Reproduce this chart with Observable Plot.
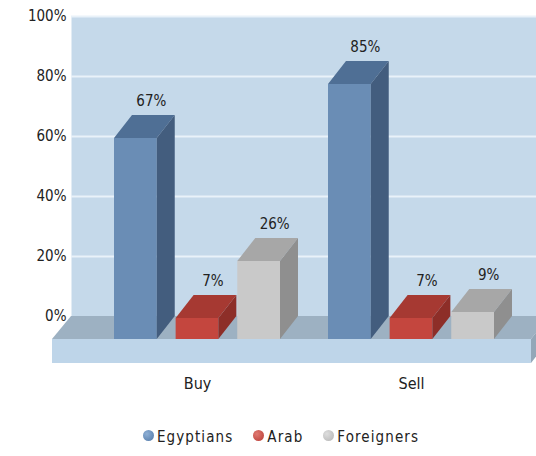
<!DOCTYPE html>
<html><head><meta charset="utf-8">
<script src="https://cdn.jsdelivr.net/npm/d3@7"></script>
<script src="https://cdn.jsdelivr.net/npm/@observablehq/plot@0.6"></script>
<style>
body{margin:0;background:#fff;width:536px;height:456px;overflow:hidden;font-family:"DejaVu Sans Condensed","DejaVu Sans",sans-serif}
#legend{display:flex;justify-content:center;align-items:center;height:20px;margin-top:27px;padding-left:26px;font-size:15px;color:#222;letter-spacing:1.1px}
.item{display:flex;align-items:center;margin:0 10px}
.dot{width:11px;height:11px;border-radius:50%;margin-right:3px;margin-top:-3px}
</style></head><body><div id="chart"></div><div id="legend"></div>
<script>
const groups = ["Buy", "Sell"];
const series = ["Egyptians", "Arab", "Foreigners"];
const buyValues = [67, 7, 26];
const sellValues = [85, 7, 9];
const yTicks = [0, 20, 40, 60, 80, 100];

const data = [];
groups.forEach((g, gi) => series.forEach((s, si) =>
  data.push({group: g, series: s, value: (gi ? sellValues : buyValues)[si]})));

const style = {
  front: ["#6a8db5", "#c4463e", "#c9c9c9"],
  top:   ["#4f6f95", "#a63932", "#a7a7a7"],
  side:  ["#435d7e", "#8d2e28", "#8f8f8f"],
  wall: "#c5d9ea", grid: "#e9f2f9", floor: "#9db1c2", slab: "#bed5e9", slabSide: "#93a7b8"
};
const DX = 18, DY = 23;
const ns = "http://www.w3.org/2000/svg";
function poly(g, pts, fill) {
  const p = document.createElementNS(ns, "polygon");
  p.setAttribute("points", pts.map(q => q.join(",")).join(" "));
  p.setAttribute("fill", fill);
  g.appendChild(p);
}

function floorRender(index, scales, values, dims) {
  const g = document.createElementNS(ns, "g");
  const y0 = values.y[0];
  const L = dims.marginLeft, R = dims.width;
  poly(g, [[L, y0], [R + 13, y0], [R - 5, y0 + DY], [L - 19, y0 + DY]], style.floor);
  poly(g, [[L - 19, y0 + DY], [R - 5, y0 + DY], [R - 5, y0 + DY + 24], [L - 19, y0 + DY + 24]], style.slab);
  poly(g, [[R - 5, y0 + DY], [R + 13, y0], [R + 13, y0 + 24], [R - 5, y0 + DY + 24]], style.slabSide);
  return g;
}

function barsRender(index, scales, values) {
  const g = document.createElementNS(ns, "g");
  const bw = typeof scales.x.bandwidth === "function" ? scales.x.bandwidth() : scales.scales.x.bandwidth;
  const inner = d3.scaleBand(series, [0, bw]).paddingInner(0.3065);
  const w = inner.bandwidth();
  for (const i of index) {
    const d = data[i], si = series.indexOf(d.series);
    const x0 = values.x[i] + inner(d.series);
    const yt = values.y2[i], yb = values.y1[i];
    poly(g, [[x0, yt + DY], [x0 + w, yt + DY], [x0 + w, yb + DY], [x0, yb + DY]], style.front[si]);
    poly(g, [[x0, yt + DY], [x0 + DX, yt], [x0 + w + DX, yt], [x0 + w, yt + DY]], style.top[si]);
    poly(g, [[x0 + w, yt + DY], [x0 + w + DX, yt], [x0 + w + DX, yb], [x0 + w, yb + DY]], style.side[si]);
    const t = document.createElementNS(ns, "text");
    t.setAttribute("x", x0 + w / 2 + 16);
    t.setAttribute("y", yt - 9);
    t.setAttribute("text-anchor", "middle");
    t.setAttribute("font-size", 15);
    t.setAttribute("fill", "#222");
    t.textContent = d.value + "%";
    g.appendChild(t);
  }
  return g;
}

const chart = Plot.plot({
  width: 536, height: 400,
  marginLeft: 71, marginRight: 0, marginTop: 16, marginBottom: 84,
  style: {fontFamily: "'DejaVu Sans Condensed', 'DejaVu Sans'", fontSize: "15px", background: "transparent"},
  x: {type: "band", domain: groups, range: [113, 495], paddingInner: 0.223, paddingOuter: 0, axis: null},
  y: {domain: [0, 100], axis: null},
  marks: [
    Plot.frame({fill: style.wall}),
    Plot.ruleY(yTicks.filter(t => t > 0), {stroke: style.grid, strokeWidth: 2}),
    Plot.ruleY([0], {render: floorRender}),
    Plot.barY(data, {x: "group", y1: 0, y2: "value", render: barsRender}),
    Plot.axisY(yTicks, {tickSize: 0, tickPadding: 5, tickFormat: d => d + "%", fontSize: 15, fill: "#222", label: null}),
    Plot.text(groups, {x: d => d, y: 0, dy: 67, text: d => d, fontSize: 16, fill: "#222"})
  ]
});
document.getElementById("chart").appendChild(chart);

const dotGrad = [
  "radial-gradient(circle at 35% 35%, #8fb0d6, #4f77a6)",
  "radial-gradient(circle at 35% 35%, #e07a72, #b83a33)",
  "radial-gradient(circle at 35% 35%, #dedede, #b3b3b3)"
];
const legend = document.getElementById("legend");
series.forEach((s, i) => {
  const it = document.createElement("div"); it.className = "item";
  const dot = document.createElement("span"); dot.className = "dot"; dot.style.background = dotGrad[i];
  const lab = document.createElement("span"); lab.textContent = s;
  it.appendChild(dot); it.appendChild(lab); legend.appendChild(it);
});
</script></body></html>
